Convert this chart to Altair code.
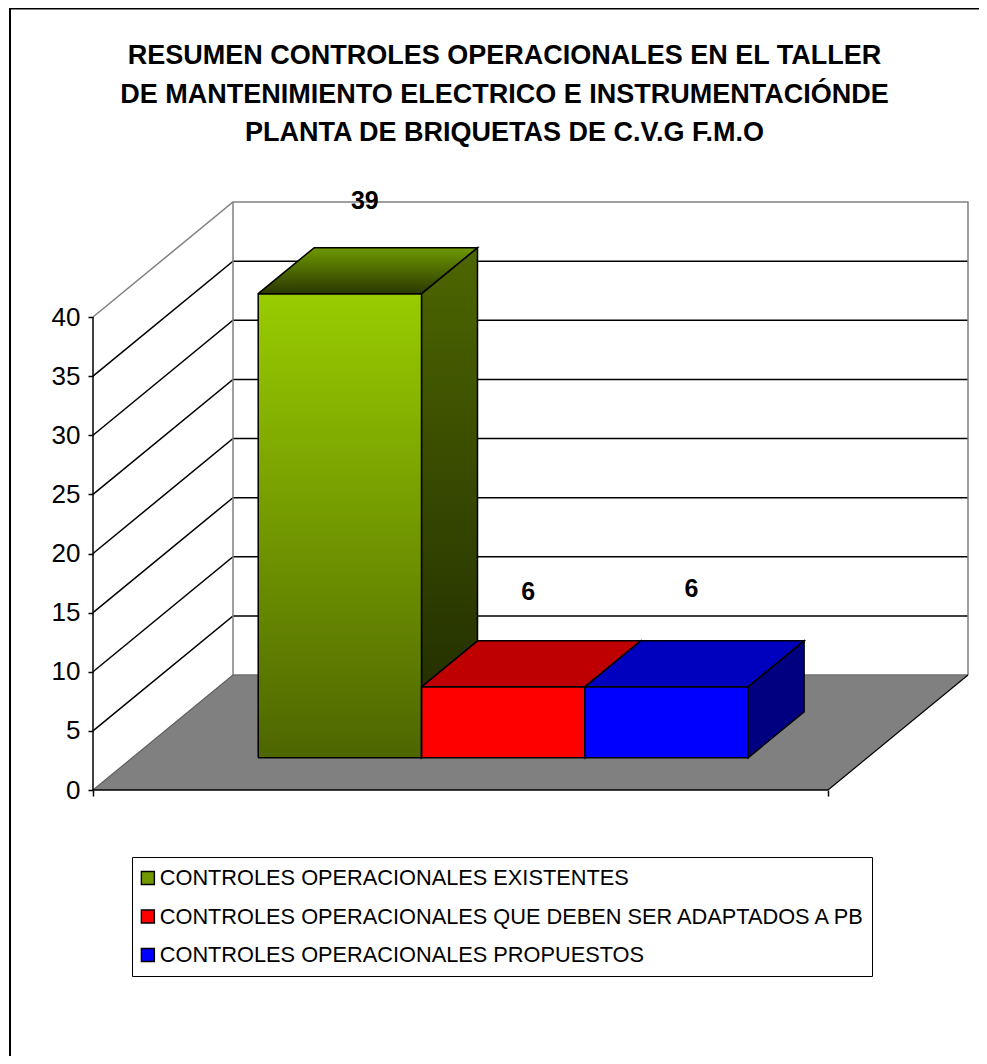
import altair as alt
import pandas as pd

# ---- chart values ----
series = ["CONTROLES OPERACIONALES EXISTENTES",
          "CONTROLES OPERACIONALES QUE DEBEN SER ADAPTADOS A PB",
          "CONTROLES OPERACIONALES PROPUESTOS"]
heights = [39.25, 6.0, 6.0]
value_labels = ["39", "6", "6"]
ticks = [0, 5, 10, 15, 20, 25, 30, 35, 40]
title_lines = ["RESUMEN CONTROLES OPERACIONALES EN EL TALLER",
               "DE MANTENIMIENTO ELECTRICO E INSTRUMENTACIÓNDE",
               "PLANTA DE BRIQUETAS DE C.V.G F.M.O"]
legend_colors = ["#739900", "#FF0000", "#0000FF"]

# ---- oblique projection of the 3D box ----
W, H = 971, 1048              # svg size
ORIGIN_X, ORIGIN_Y = 85, 782  # where value 0 / front-left corner sits in the svg
UNIT = 11.825                 # pixels per value unit
FLOOR_W = 735
DEPTH_X, DEPTH_Y = 140, 115   # pixels of the full depth vector
BAR_W, BAR_X0 = 163.3, 126
DEPTH0, DEPTH1 = 0.28, 0.68
FONT = "Liberation Sans"

xs = alt.Scale(domain=[-ORIGIN_X, W - ORIGIN_X], range=[0, W], nice=False, zero=False)
ys = alt.Scale(domain=[(ORIGIN_Y - H) / UNIT, ORIGIN_Y / UNIT], range=[H, 0], nice=False, zero=False)

x_axis = alt.Axis(values=[0, FLOOR_W], labels=False, title=None, domain=False, grid=False,
                  orient="bottom", offset=ORIGIN_Y - H, tickSize=6, tickWidth=1.5, tickColor="black")
y_axis = alt.Axis(values=ticks, title=None, domain=False, grid=False, orient="left",
                  offset=-ORIGIN_X, tickSize=5, tickWidth=1.5, tickColor="black",
                  labelFont=FONT, labelFontSize=26, labelColor="black", labelPadding=8)


def P(x, v, d=0.0):
    """model (x, value, depth) -> plotted (x, y) in scale units"""
    return x + d * DEPTH_X, v + d * DEPTH_Y / UNIT


X = alt.X("x:Q", scale=xs, axis=x_axis)
Y = alt.Y("y:Q", scale=ys, axis=y_axis)
Y2 = alt.Y2("y2:Q")


def outline(points, color="black", width=1.5):
    df = pd.DataFrame([{"x": a, "y": b, "i": i} for i, (a, b) in enumerate(points)])
    return alt.Chart(df).mark_line(color=color, strokeWidth=width, interpolate="linear").encode(
        x=X, y=Y, order="i:O")


def gradient(top, bottom):
    return alt.Gradient(gradient="linear", x1=0, x2=0, y1=0, y2=1,
                        stops=[alt.GradientStop(color=top, offset=0),
                               alt.GradientStop(color=bottom, offset=1)])


def fill(rows, color):
    df = pd.DataFrame(rows, columns=["x", "y", "y2"])
    return alt.Chart(df).mark_area(color=color, interpolate="linear").encode(x=X, y=Y, y2=Y2)


def top_rows(x0, x1, v, d0, d1):
    (a0, yf), (a1, _) = P(x0, v, d0), P(x1, v, d0)
    (b0, yb), (b1, _) = P(x0, v, d1), P(x1, v, d1)
    return [(a0, yf, yf), (b0, yb, yf), (a1, yb, yf), (b1, yb, yb)]


def top_outline(x0, x1, v, d0, d1):
    return [P(x0, v, d0), P(x1, v, d0), P(x1, v, d1), P(x0, v, d1), P(x0, v, d0)]


def side_rows(x1, v, d0, d1):
    a, ya = P(x1, v, d0)
    ab, ya0 = P(x1, 0, d0)
    b, yb = P(x1, v, d1)
    bb, yb0 = P(x1, 0, d1)
    return [(a, ya, ya0), (b, yb, yb0)]


def side_outline(x1, v, d0, d1):
    return [P(x1, v, d0), P(x1, v, d1), P(x1, 0, d1), P(x1, 0, d0), P(x1, v, d0)]


def front_outline(x0, x1, v, d0):
    return [P(x0, 0, d0), P(x1, 0, d0), P(x1, v, d0), P(x0, v, d0), P(x0, 0, d0)]


edges = [BAR_X0 + i * BAR_W for i in range(len(heights) + 1)]
layers = []

# frame of the picture (its right and bottom sides fall outside)
frame_top = (ORIGIN_Y - 0.5) / UNIT
frame_left = 2 - ORIGIN_X
layers.append(outline([(frame_left, (ORIGIN_Y - H) / UNIT), (frame_left, frame_top), (W - ORIGIN_X, frame_top)],
                      width=2))

# walls: gridlines
for t in ticks[1:-1]:
    layers.append(outline([P(0, t, 0), P(0, t, 1), P(FLOOR_W, t, 1)]))
wall_max = ticks[-1]
layers.append(outline([P(0, wall_max, 0), P(0, wall_max, 1), P(FLOOR_W, wall_max, 1), P(FLOOR_W, 0, 1)],
                      color="#808080", width=1.5))
layers.append(outline([P(0, 0, 1), P(0, wall_max, 1)], color="#808080", width=1.5))

# floor
layers.append(fill(top_rows(0, FLOOR_W, 0, 0, 1), "#808080"))
layers.append(outline([P(0, 0, 1), P(FLOOR_W, 0, 1)], color="#707070", width=1.5))
layers.append(outline([P(0, 0, 0), P(0, 0, 1)], color="#606060", width=1.2))
layers.append(outline([P(FLOOR_W, 0, 0), P(FLOOR_W, 0, 1)], width=1.2))

# green and red side faces go behind the front faces
layers.append(fill(side_rows(edges[1], heights[0], DEPTH0, DEPTH1), gradient("#4D6600", "#1E2800")))
layers.append(outline(side_outline(edges[1], heights[0], DEPTH0, DEPTH1)))
layers.append(fill(side_rows(edges[2], heights[1], DEPTH0, DEPTH1), "#800000"))
layers.append(outline(side_outline(edges[2], heights[1], DEPTH0, DEPTH1)))

# front faces (these carry the legend)
front_rows = []
for i, name in enumerate(series):
    ax, ay = P(edges[i], heights[i], DEPTH0)
    bx, by = P(edges[i + 1], heights[i], DEPTH0)
    _, y0 = P(edges[i], 0, DEPTH0)
    front_rows += [{"x": ax, "y": ay, "y2": y0, "serie": name}, {"x": bx, "y": by, "y2": y0, "serie": name}]

layers.append(alt.Chart(pd.DataFrame(front_rows)).mark_area(interpolate="linear").encode(
    x=X, y=Y, y2=Y2,
    color=alt.Color("serie:N", sort=None,
                    scale=alt.Scale(domain=series, range=legend_colors),
                    legend=alt.Legend(title=None, orient="none", legendX=124, legendY=849,
                                      padding=5, strokeColor="black", fillColor="white",
                                      symbolType="square", symbolSize=169,
                                      symbolStrokeColor="black", symbolStrokeWidth=1.4,
                                      labelFont=FONT, labelFontSize=21.75, labelColor="black",
                                      labelLimit=900, labelOffset=1, rowPadding=6.5, clipHeight=32))))

# green front with its gradient
gx0, gv0 = P(edges[0], heights[0], DEPTH0)
gx1, _ = P(edges[1], heights[0], DEPTH0)
_, g0 = P(edges[0], 0, DEPTH0)
layers.append(fill([(gx0, gv0, g0), (gx1, gv0, g0)], gradient("#99CC00", "#4D6600")))
for i in range(3):
    layers.append(outline(front_outline(edges[i], edges[i + 1], heights[i], DEPTH0)))

# top faces
top_colors = [gradient("#6F9900", "#2A3800"), "#BF0000", "#0000BF"]
for i in range(3):
    layers.append(fill(top_rows(edges[i], edges[i + 1], heights[i], DEPTH0, DEPTH1), top_colors[i]))
    layers.append(outline(top_outline(edges[i], edges[i + 1], heights[i], DEPTH0, DEPTH1)))

# blue side face
layers.append(fill(side_rows(edges[3], heights[2], DEPTH0, DEPTH1), "#000080"))
layers.append(outline(side_outline(edges[3], heights[2], DEPTH0, DEPTH1)))

# front edge of the floor and value axis line
layers.append(outline([P(0, 0, 0), P(FLOOR_W, 0, 0)], width=1.5))
layers.append(outline([P(0, 0, 0), P(0, ticks[-1], 0)], width=1.5))

# value labels above the bars
label_depth = (DEPTH0 + DEPTH1) / 2
nudge_dy = [-70, -72, -75]
for i in range(3):
    cx, cy = P((edges[i] + edges[i + 1]) / 2, heights[i], label_depth)
    df = pd.DataFrame({"x": [cx], "y": [cy], "label": [value_labels[i]]})
    layers.append(alt.Chart(df).mark_text(font=FONT, fontSize=25, fontWeight="bold", color="black",
                                          baseline="middle", align="center", dx=-3, dy=nudge_dy[i]).encode(
        x=X, y=Y, text="label:N"))

chart = alt.layer(*layers).properties(
    width=W, height=H, padding=0,
    autosize=alt.AutoSizeParams(type="none", contains="content"),
    background="white",
    title=alt.TitleParams(text=title_lines, font=FONT, fontSize=27, fontWeight="bold", color="black",
                          anchor="middle", frame="group", orient="top", baseline="top",
                          offset=0, dx=11, dy=142.5, lineHeight=38.5),
).configure_view(strokeOpacity=0)

chart.save("out.html", embed_options={"renderer": "svg", "actions": False})
